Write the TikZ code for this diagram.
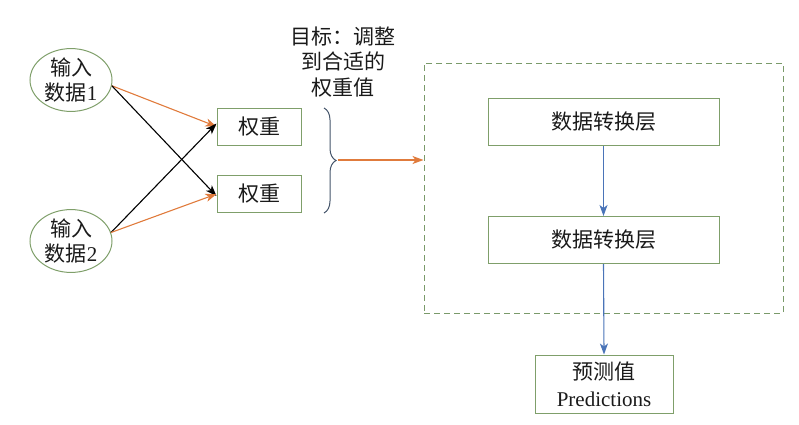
\documentclass[tikz,border=0pt]{standalone}
\usepackage{fontspec}
\setmainfont{Liberation Serif}
\newfontfamily\cjk{Noto Sans CJK SC}
\usetikzlibrary{shapes.geometric,arrows.meta,decorations.pathreplacing}
\definecolor{gborder}{HTML}{7F9F6A}
\definecolor{dashc}{HTML}{7A9A6A}
\definecolor{orangec}{HTML}{E07B3C}
\definecolor{bluec}{HTML}{4A74B8}
\definecolor{bracec}{HTML}{44546A}
\definecolor{txt}{HTML}{1A1A1A}
\tikzset{
  ell/.style={ellipse, draw=gborder, line width=1pt, minimum width=82pt, minimum height=56pt, inner sep=0pt, align=center, font=\fontsize{21}{25}\selectfont, text=txt},
  wbox/.style={rectangle, draw=gborder, line width=1pt, minimum width=84pt, minimum height=37pt, inner sep=0pt, font=\fontsize{21}{25}\selectfont, text=txt},
  lbox/.style={rectangle, draw=gborder, line width=1pt, minimum width=231pt, minimum height=47pt, inner sep=0pt, font=\fontsize{21}{25}\selectfont, text=txt},
  pbox/.style={rectangle, draw=gborder, line width=1pt, minimum width=138pt, minimum height=58pt, inner sep=0pt, align=center, font=\fontsize{21}{27}\selectfont, text=txt},
  grpbox/.style={rectangle, draw=dashc, line width=1pt, dash pattern=on 6pt off 4pt, minimum width=359pt, minimum height=250pt, inner sep=0pt},
  tip/.style={-{Stealth[length=11pt,width=8pt,inset=3pt]}},
  oarrow/.style={draw=orangec, line width=1.1pt, tip},
  karrow/.style={draw=black, line width=1.1pt, tip},
  barrow/.style={draw=bluec, line width=1.1pt, tip},
  titletext/.style={align=center, font=\fontsize{21}{25.5}\selectfont, text=txt, inner sep=0pt}
}
\begin{document}
\begin{tikzpicture}[x=1pt,y=-1pt]
\useasboundingbox (0,0) rectangle (799,424);
\node[ell] (in1) at (71,80) {{\cjk 输入}\\{\cjk 数据}1};
\node[ell] (in2) at (71,241) {{\cjk 输入}\\{\cjk 数据}2};
\node[wbox] (w1) at (259,126.5) {\cjk 权重};
\node[wbox] (w2) at (259,194) {\cjk 权重};
\node[titletext] (goal) at (343,62) {{\cjk 目标：调整}\\{\cjk 到合适的}\\{\cjk 权重值}};
\node[grpbox] (grp) at (603.5,188) {};
\node[lbox] (l1) at (603.5,122) {\cjk 数据转换层};
\node[lbox] (l2) at (603.5,240) {\cjk 数据转换层};
\node[pbox] (pred) at (604,384) {{\cjk 预测值}\\Predictions};
\coordinate (btop) at (324,108);
\coordinate (bbot) at (324,213);
\coordinate (btip) at (338,160);
\draw[bracec, line width=1pt, decorate, decoration={brace, amplitude=12pt}] (btop) -- (bbot);
\draw[oarrow] (in1.-8) -- (w1.west);
\draw[karrow] (in1.-8) -- ([yshift=-2pt]w2.west);
\draw[karrow] (in2.12) -- ([yshift=3pt]w1.west);
\draw[oarrow] (in2.12) -- (w2.west);
\draw[oarrow] (btip) -- (btip -| grp.west);
\draw[barrow] (l1.south) -- (l2.north);
\draw[barrow] (l2.south) -- (pred.north);
\end{tikzpicture}
\end{document}
